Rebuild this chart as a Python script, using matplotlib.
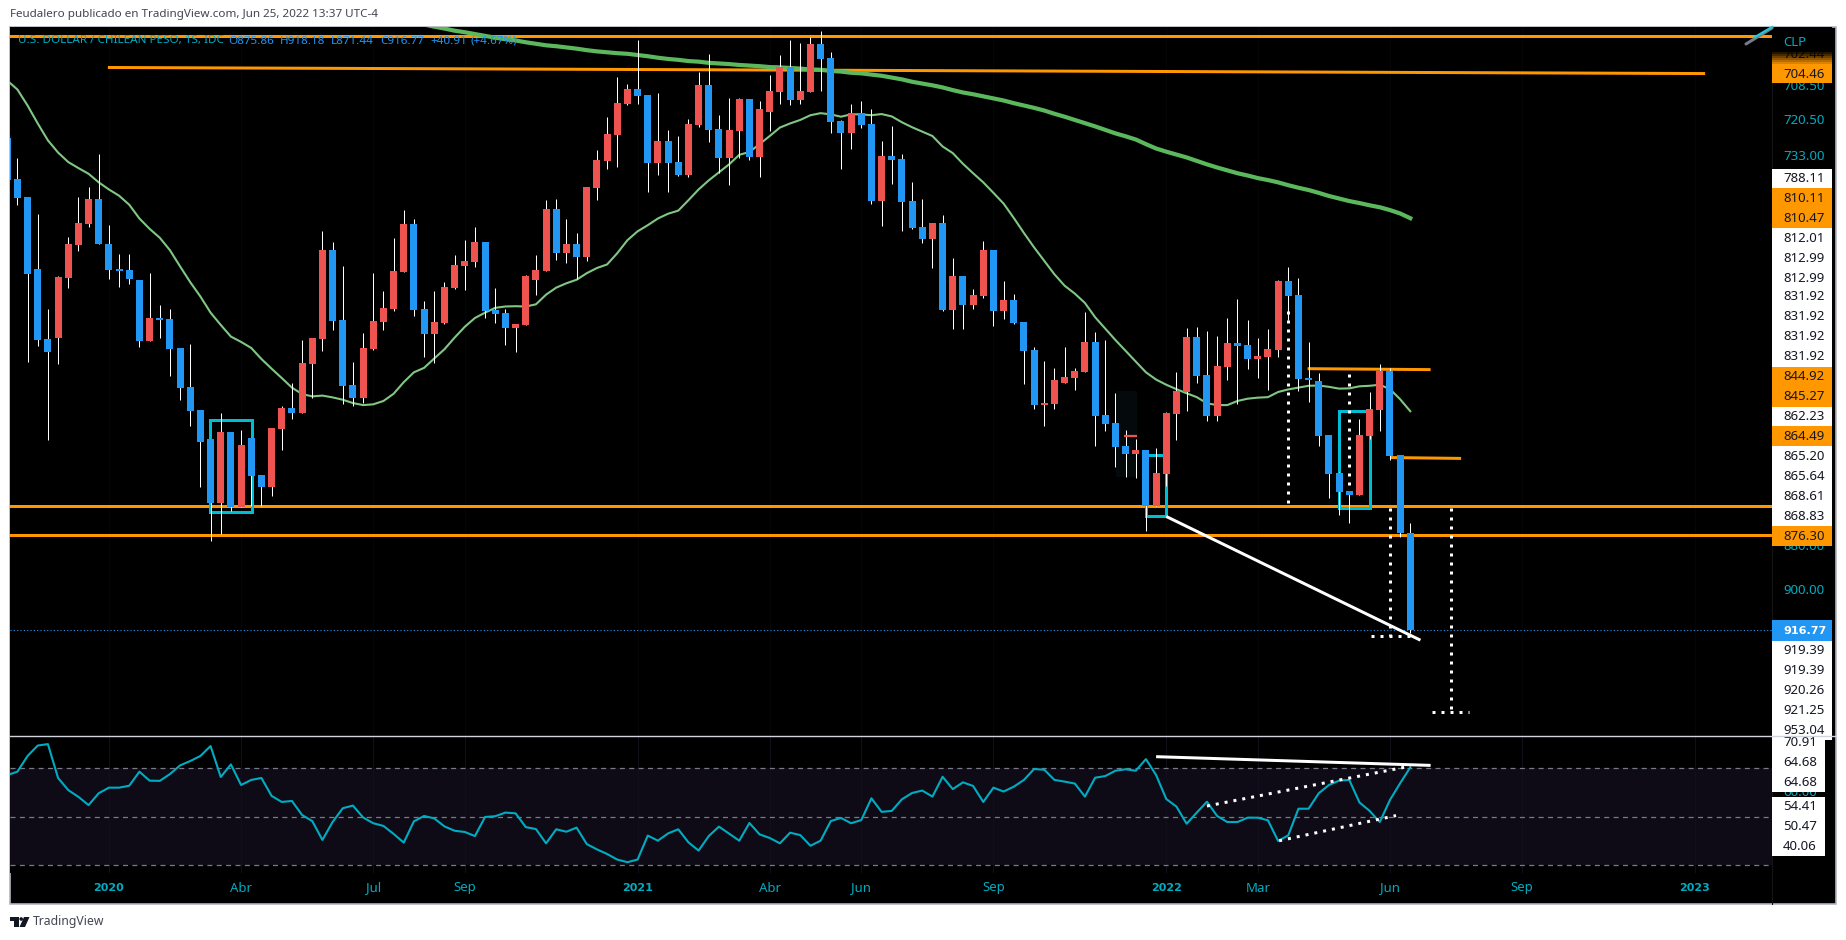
#!/usr/bin/env python
import numpy as np
import matplotlib
matplotlib.use("Agg")
from matplotlib import pyplot as plt
from matplotlib.patches import Rectangle, Polygon, Circle

plt.rcParams["font.family"] = ["Noto Sans", "DejaVu Sans"]

# weekly USD/CLP candles, first one is cut by the left edge
opens = [726.2, 740.5, 747.0, 772.8, 798.8, 798.3, 775.9, 764.0, 756.5, 747.6, 763.7, 772.8, 773.2, 776.8, 799.5, 790.9, 791.3, 802.2, 817.3, 826.2,
         837.5, 863.3, 834.8, 864.9, 837.1, 851.9, 856.9, 833.5, 825.3, 827.3, 808.3, 798.8, 765.9, 791.7, 816.5, 821.4, 802.6, 792.5, 787.5, 774.0,
         756.5, 787.5, 796.9, 792.7, 779.7, 771.8, 770.3, 763.1, 787.9, 789.0, 794.6, 793.5, 776.8, 773.6, 751.1, 766.9, 763.7, 768.5, 743.6, 734.3,
         725.3, 714.7, 709.7, 711.7, 734.9, 727.4, 734.7, 739.2, 721.9, 708.4, 723.2, 733.2, 724.0, 713.0, 732.9, 717.5, 710.8, 702.4, 713.4, 710.8,
         694.7, 699.3, 720.6, 724.4, 717.8, 721.5, 748.4, 732.6, 733.6, 748.4, 757.6, 761.9, 756.1, 787.9, 775.4, 786.1, 782.8, 765.9, 788.3, 784.2,
         792.5, 803.0, 824.2, 823.8, 815.6, 813.7, 811.5, 800.0, 828.1, 831.2, 840.4, 843.5, 841.9, 864.6, 851.5, 827.7, 819.2, 798.1, 812.6, 828.5,
         809.6, 800.3, 801.1, 806.4, 805.7, 803.0, 777.2, 782.4, 813.7, 814.9, 836.0, 851.1, 858.5, 860.1, 836.4, 826.2, 811.1, 843.9, 875.86]
highs = [740.8, 749.6, 807.5, 801.4, 837.8, 808.2, 779.6, 766.2, 757.5, 763.7, 776.3, 779.3, 778.2, 801.8, 799.5, 798.3, 812.9, 822.1, 832.3, 856.7,
         878.9, 875.9, 866.5, 864.9, 864.7, 864.7, 860.5, 841.8, 829.5, 827.3, 821.6, 803.4, 795.3, 823.7, 824.4, 823.4, 802.9, 795.3, 788.3, 774.0,
         790.2, 805.6, 807.9, 793.3, 780.0, 780.4, 772.1, 790.9, 792.7, 801.0, 803.6, 793.5, 782.4, 773.6, 769.5, 770.6, 776.4, 769.9, 748.0, 737.0,
         736.4, 715.0, 714.7, 745.1, 739.2, 745.1, 739.5, 739.9, 722.6, 727.8, 738.4, 742.7, 733.2, 734.0, 739.9, 724.0, 714.7, 715.1, 714.7, 710.8,
         710.4, 724.6, 737.0, 730.1, 722.9, 749.3, 757.2, 742.3, 759.1, 758.4, 763.3, 772.4, 788.3, 795.0, 795.0, 787.5, 783.6, 793.9, 791.3, 793.1,
         816.0, 825.8, 832.4, 825.8, 815.6, 818.4, 811.5, 840.4, 834.4, 848.8, 852.8, 853.1, 874.9, 864.6, 856.4, 837.9, 826.6, 815.6, 830.5, 830.5,
         814.5, 823.8, 810.2, 813.7, 818.4, 805.7, 791.7, 818.8, 823.1, 840.4, 861.2, 868.3, 871.5, 860.1, 837.5, 834.4, 845.9, 877.4, 918.18]
lows = [726.2, 733.2, 747.0, 752.9, 787.5, 775.4, 761.3, 747.0, 743.4, 731.8, 756.9, 767.3, 767.3, 776.8, 774.2, 786.1, 787.5, 802.2, 800.7, 826.2,
        837.5, 827.3, 834.8, 834.0, 837.1, 851.9, 833.1, 824.4, 815.6, 799.1, 798.4, 759.1, 763.1, 771.8, 807.6, 796.5, 774.2, 780.9, 761.6, 751.5,
        754.7, 784.6, 780.9, 777.6, 767.7, 762.3, 757.6, 763.1, 779.7, 787.5, 793.1, 775.0, 767.7, 748.0, 747.6, 754.7, 759.7, 743.4, 730.5, 719.2,
        705.7, 708.0, 693.4, 711.7, 711.0, 723.6, 725.7, 719.8, 704.0, 698.0, 718.5, 712.7, 712.7, 713.0, 713.8, 705.0, 698.4, 693.4, 694.4, 692.5,
        690.5, 697.4, 720.2, 714.7, 713.8, 716.4, 727.4, 722.2, 731.8, 741.7, 747.6, 756.1, 753.3, 768.8, 775.4, 780.1, 762.7, 765.9, 777.2, 782.0,
        792.5, 801.9, 807.2, 809.8, 801.9, 809.8, 788.7, 796.2, 799.2, 819.5, 834.0, 837.5, 841.9, 841.1, 826.9, 811.5, 794.6, 794.3, 795.8, 797.7,
        790.9, 783.9, 791.7, 798.4, 795.0, 776.8, 772.1, 776.0, 800.0, 811.8, 836.0, 850.8, 858.5, 829.6, 819.2, 808.3, 809.8, 843.9, 871.44]
closes = [740.8, 747.1, 774.5, 799.1, 803.9, 775.8, 763.7, 756.1, 747.6, 763.7, 773.1, 773.6, 776.4, 799.5, 790.9, 791.5, 802.6, 817.4, 826.5, 838.7,
          863.3, 834.8, 864.9, 840.0, 852.4, 856.9, 833.1, 825.3, 827.3, 807.9, 798.4, 765.9, 792.1, 816.9, 821.4, 802.2, 792.1, 787.1, 773.6, 756.5,
          787.8, 796.9, 792.5, 779.4, 771.4, 769.9, 763.1, 788.3, 789.4, 794.6, 793.1, 775.4, 773.2, 751.1, 766.9, 763.7, 768.5, 743.4, 734.0, 725.0,
          714.4, 709.7, 712.1, 734.9, 727.4, 734.9, 739.2, 721.5, 708.4, 723.6, 733.2, 723.6, 713.0, 732.9, 716.4, 710.4, 702.4, 713.4, 710.4, 694.7,
          699.7, 720.9, 724.4, 717.8, 721.9, 748.4, 732.6, 734.0, 748.8, 758.0, 761.9, 756.1, 787.9, 775.4, 786.1, 782.4, 765.9, 788.3, 784.2, 792.7,
          803.4, 824.2, 823.4, 814.5, 813.4, 811.1, 800.0, 828.5, 831.6, 840.8, 843.5, 841.9, 864.6, 851.1, 827.3, 818.8, 798.1, 813.0, 828.5, 809.2,
          800.3, 801.5, 806.4, 805.3, 802.6, 777.2, 782.8, 814.1, 814.5, 836.4, 851.5, 858.9, 860.1, 836.0, 825.8, 811.1, 844.3, 875.86, 916.77]

# thin moving average, one value per candle
ma_fast = [706.8, 709.8, 715.2, 721.3, 727.1, 731.3, 734.6, 736.7, 738.7, 741.7, 744.2, 746.4, 749.6, 754.5, 758.2, 761.4, 765.9, 771.8, 777.6, 782.9,
           788.9, 793.5, 797.9, 799.9, 802.2, 806.4, 810.1, 813.7, 817.4, 819.9, 820.8, 820.5, 821.2, 822.1, 823.4, 824.2, 823.9, 822.6, 819.8, 815.3,
           811.5, 809.8, 806.2, 802.7, 798.3, 794.2, 790.9, 788.9, 787.1, 786.6, 786.5, 786.6, 785.8, 782.2, 779.6, 778.0, 776.7, 774.3, 772.4, 771.1,
           767.0, 762.3, 759.1, 756.9, 754.5, 752.8, 751.7, 748.0, 744.2, 741.0, 738.2, 735.4, 732.1, 731.1, 728.4, 725.6, 722.7, 721.3, 720.1, 718.5,
           717.8, 718.2, 719.0, 718.2, 718.2, 718.5, 718.1, 718.9, 720.9, 722.6, 724.1, 725.6, 729.2, 731.5, 735.2, 738.5, 741.7, 745.4, 749.2, 754.3,
           759.7, 764.9, 769.8, 774.7, 778.9, 781.8, 785.3, 790.6, 794.9, 799.2, 803.3, 807.4, 811.5, 814.3, 816.3, 818.0, 819.6, 821.1, 823.5, 824.2,
           824.2, 822.6, 821.7, 821.3, 821.1, 819.1, 818.1, 817.4, 816.7, 816.6, 817.1, 817.8, 817.7, 816.9, 816.7, 816.3, 818.0, 821.9, 826.6]

# thick moving average, comes into the pane around candle 41
ma_slow_start = 40
ma_slow = [688.3, 689.0, 689.6, 690.3, 690.8, 691.4, 692.0, 692.6, 693.1, 693.5, 694.1, 694.6, 695.1, 695.4, 695.8, 696.2, 696.7, 697.1, 697.4, 697.7,
           697.9, 698.3, 698.7, 699.2, 699.6, 699.9, 700.3, 700.5, 700.9, 701.1, 701.3, 701.6, 701.8, 702.0, 702.3, 702.4, 702.6, 702.8, 703.1, 703.2,
           703.6, 703.8, 704.2, 704.4, 704.8, 705.2, 705.8, 706.4, 707.2, 707.8, 708.4, 709.1, 710.0, 710.8, 711.4, 712.1, 712.8, 713.5, 714.4, 715.2,
           716.0, 716.9, 718.0, 719.0, 720.1, 721.2, 722.3, 723.5, 724.7, 725.7, 726.8, 728.4, 729.9, 731.0, 732.0, 733.0, 734.2, 735.4, 736.5, 737.5,
           738.5, 739.3, 740.2, 740.9, 741.7, 742.7, 743.6, 744.4, 745.4, 746.5, 747.4, 748.3, 749.0, 749.8, 750.5, 751.5, 752.7, 754.4]

rsi = [67.2, 68.6, 75.1, 79.4, 80.0, 66.0, 61.0, 58.2, 54.8, 59.7, 62.0, 62.0, 62.8, 68.6, 64.9, 64.8, 67.6, 71.2, 73.0, 75.1,
       79.2, 66.4, 71.6, 63.1, 65.2, 66.0, 58.6, 56.1, 56.5, 50.7, 48.2, 40.4, 47.8, 53.5, 54.6, 49.7, 47.3, 46.2, 42.9, 39.3,
       48.1, 50.3, 49.3, 46.0, 44.2, 43.7, 42.0, 49.9, 50.2, 51.7, 51.4, 45.7, 44.9, 39.0, 44.8, 43.8, 45.5, 38.7, 36.5, 34.6,
       32.3, 31.2, 32.3, 42.2, 40.1, 43.1, 44.8, 39.4, 36.0, 42.0, 45.9, 43.0, 40.1, 47.4, 42.7, 41.2, 39.0, 43.4, 42.4, 38.0,
       40.1, 48.2, 49.5, 47.3, 48.6, 57.6, 52.0, 52.4, 57.2, 59.8, 60.8, 58.3, 66.5, 61.4, 64.2, 62.7, 56.1, 62.0, 60.4, 62.4,
       65.2, 69.7, 69.4, 65.2, 64.5, 63.7, 58.3, 66.1, 66.8, 69.0, 69.6, 69.0, 73.8, 67.2, 57.3, 54.2, 47.1, 51.7, 56.2, 50.3,
       47.8, 47.8, 49.6, 49.6, 48.5, 40.0, 42.3, 53.3, 53.3, 59.7, 63.1, 64.9, 65.2, 55.9, 52.4, 47.8, 56.9, 63.8, 70.4]

date_labels = ["2020", "Abr", "Jul", "Sep", "2021", "Abr", "Jun", "Sep", "2022", "Mar", "Jun", "Sep", "2023"]
date_pos = [9, 22, 35, 44, 61, 74, 83, 96, 113, 122, 135, 148, 165]

# price tags of the right scale: cyan = plain scale value, white = drawing, orange = level
tag_labels = ["708.50", "720.50", "733.00", "880.00", "900.00", "60.00",
              "788.11", "810.11", "810.47", "812.01", "812.99", "812.99", "831.92", "831.92", "831.92", "831.92",
              "844.92", "845.27", "862.23", "864.49", "865.20", "865.64", "868.61", "868.83", "876.30",
              "919.39", "919.39", "920.26", "921.25", "953.04", "70.91", "64.68", "64.68", "54.41", "50.47", "40.06"]
tag_y = [86, 121, 157, 546, 591, 793,
         179, 198, 218, 238, 258, 278, 297, 317, 337, 357,
         377, 397, 417, 436, 456, 476, 496, 516, 536,
         651, 671, 690, 710, 730, 742, 762, 782, 807, 827, 846]
tag_kind = ["s", "s", "s", "s", "s", "s",
            "w", "o", "o", "w", "w", "w", "w", "w", "w", "w",
            "o", "o", "w", "o", "w", "w", "w", "w", "o",
            "w", "w", "w", "w", "w", "r", "r", "r", "r", "r", "r"]

W, H = 1846, 940
L, R = 10, 1772
X0, STEP = 17.4, 10.167
ORANGE = "#ff9800"
CYAN = "#00bcd4"
TEXT_CYAN = "#00acc1"
BLUE = "#2196f3"
RED = "#ef5350"

fig = plt.figure(figsize=(W / 100, H / 100), dpi=100, facecolor="white")


def pane(top, bottom):
    ax = fig.add_axes([L / W, 1 - bottom / H, (R - L) / W, (bottom - top) / H], facecolor="black")
    ax.set_xlim((L - X0) / STEP, (R - X0) / STEP)
    ax.set_xticks([])
    ax.set_yticks([])
    for s in ax.spines.values():
        s.set_visible(False)
    return ax


# full figure pixel axes, drawn first so the frame sits behind the panes
bg = fig.add_axes([0, 0, 1, 1], zorder=0)
bg.set_xlim(0, W)
bg.set_ylim(H, 0)
bg.axis("off")
bg.add_patch(Rectangle((10, 27), 1826, 877, fc="black", ec="#b2b5be", lw=1.2))

ax = pane(27, 736)
ax.set_zorder(1)
ax.set_yscale("log")
ax.set_ylim(964.0, 689.1)
ax.minorticks_off()
ax.set_yticks([])
ax.tick_params(which="both", left=False, labelleft=False)

lw3 = 2.16
for d in date_pos:
    ax.axvline(d, color="#070707", lw=0.7, zorder=1)

x = np.arange(len(opens)) - 1

# hidden leftover drawing near the end of 2021
ax.add_patch(Rectangle((108.05, 818.8), 2.05, 33.8, fc="#04090c", ec="none", zorder=1.5))

ax.axhline(916.77, color=BLUE, lw=0.8, ls=(0, (1, 2)), zorder=2)

# orange levels
for lvl in [692.1, 864.49, 876.30]:
    ax.axhline(lvl, color=ORANGE, lw=lw3, zorder=3)
ax.plot([8.9, 166.0], [702.44, 704.46], color=ORANGE, lw=lw3, zorder=3, solid_capstyle="butt")
ax.plot([126.9, 139.0], [810.11, 810.47], color=ORANGE, lw=lw3, zorder=3, solid_capstyle="butt")
ax.plot([135.0, 142.0], [844.92, 845.27], color=ORANGE, lw=lw3, zorder=3, solid_capstyle="butt")

# teal boxes
for x1, x2, p1, p2 in [(18.95, 23.1, 830.1, 866.9), (111.0, 113.0, 843.8, 868.6), (130.0, 133.05, 826.7, 865.5)]:
    ax.plot([x1, x2, x2, x1, x1], [p1, p1, p2, p2, p1], color=CYAN, lw=lw3, zorder=3, solid_joinstyle="miter")

# white trend line and dotted measures
ax.plot([113.0, 138.0], [868.83, 921.25], color="white", lw=lw3, zorder=3, solid_capstyle="butt")
dots = dict(color="white", lw=lw3, ls=(0, (1, 2)), zorder=3, dash_capstyle="butt")
ax.plot([125, 125], [788.11, 865.64], **dots)
ax.plot([131, 131], [812.01, 862.23], **dots)
ax.plot([135, 135], [865.20, 919.39], **dots)
ax.plot([133.1, 137.0], [919.39, 919.39], **dots)
ax.plot([141, 141], [865.2, 953.04], **dots)
ax.plot([139.1, 142.8], [953.04, 953.04], **dots)

ax.plot(x, ma_fast, color="#81c784", lw=1.5, zorder=4)
ax.plot(np.arange(len(ma_slow)) + ma_slow_start, ma_slow, color="#5cb85c", lw=3.0, zorder=4)

# candles, axis is inverted so a rising price goes down the screen
colors = [BLUE if c >= o else RED for o, c in zip(opens, closes)]
wicks = ax.vlines(x, lows, highs, color="white", lw=0.72, zorder=5)
wicks.set_snap(True)
bot = [min(o, c) for o, c in zip(opens, closes)]
hgt = [max(abs(c - o), 0.5) for o, c in zip(opens, closes)]
ax.bar(x, hgt, bottom=bot, width=0.69, color=colors, linewidth=0, zorder=6)
ax.plot([108.8, 110.1], [836.4, 836.4], color=RED, lw=1.6, zorder=6, solid_capstyle="butt")

# rsi pane
ax2 = pane(737, 873)
ax2.set_zorder(1)
ax2.set_ylim(26.74, 82.93)
ax2.axhspan(30, 70, color="#0e0b16", lw=0, zorder=1)
for d in date_pos:
    ax2.axvline(d, color="#12101c", lw=0.7, zorder=1)
for lvl in [70, 50, 30]:
    ax2.axhline(lvl, color="#787b86", lw=0.9, ls=(0, (4, 3.5)), zorder=2)
ax2.plot(np.arange(len(rsi)) - 1, rsi, color=TEXT_CYAN, lw=1.5, zorder=4)
ax2.plot([112.0, 139.0], [74.8, 71.2], color="white", lw=lw3, zorder=5, solid_capstyle="butt")
ax2.plot([117.0, 137.0], [54.41, 70.91], **{**dots, "zorder": 5})
ax2.plot([124.1, 135.6], [40.06, 50.47], **{**dots, "zorder": 5})

# overlay for scale tags, header and dates
ov = fig.add_axes([0, 0, 1, 1], zorder=3)
ov.set_xlim(0, W)
ov.set_ylim(H, 0)
ov.axis("off")
ov.patch.set_alpha(0)

fs = 9.5
ov.plot([R, R], [27, 904], color="#141414", lw=0.8)

kinds = {"w": ("white", "#131722", 1832), "o": (ORANGE, "#131722", 1832), "r": ("white", "#131722", 1825)}
for label, yy, kind in zip(tag_labels, tag_y, tag_kind):
    if kind == "s":
        ov.text(1783, yy, label, color=TEXT_CYAN, fontsize=fs, va="center", ha="left", zorder=2)
for label, yy, kind in zip(tag_labels, tag_y, tag_kind):
    if kind != "s":
        fc, tc, xr = kinds[kind]
        ov.add_patch(Rectangle((R, yy - 10), xr - R, 20, fc=fc, ec="none", zorder=3))
        ov.text(1783, yy, label, color=tc, fontsize=fs, va="center", ha="left", zorder=4)
ov.plot([10, 1836], [736, 736], color="#d1d4dc", lw=1.0, zorder=5)

# current price tag
ov.add_patch(Rectangle((R, 620), 60, 21, fc=BLUE, ec="none", zorder=3))
ov.text(1783, 631, "916.77", color="white", fontsize=8.0, fontweight="bold", family="DejaVu Sans",
        va="center", ha="left", zorder=4)

# top of the scale, 702.44 tag fading out under the CLP corner
ov.add_patch(Rectangle((R, 63), 60, 20, fc=ORANGE, ec="none", zorder=3))
ov.text(1783, 74, "704.46", color="#131722", fontsize=fs, va="center", zorder=4)
ov.add_patch(Rectangle((R, 48), 60, 15, fc=ORANGE, ec="none", zorder=3))
ov.text(1783, 55, "702.44", color="#131722", fontsize=fs, va="center", zorder=4)
ov.add_patch(Rectangle((R, 27), 60, 23, fc="black", ec="none", zorder=5))
for k in range(7):
    ov.add_patch(Rectangle((R, 50 + k * 2), 60, 2, fc="black", alpha=1 - k / 7, ec="none", zorder=5))
ov.text(1783, 42, "CLP", color=TEXT_CYAN, fontsize=fs, va="center", zorder=6)

# trend line running out of the chart, top right
ov.plot([1746, 1772], [44, 28], color="#787b86", lw=2.2, zorder=6, solid_capstyle="round")
ov.plot([1755, 1772], [37, 27], color="#26c6da", lw=1.6, zorder=6)

for label, d in zip(date_labels, date_pos):
    if label.isdigit():
        ov.text(X0 + d * STEP, 888, label, color=TEXT_CYAN, fontsize=8.0, fontweight="bold",
                family="DejaVu Sans", ha="center", va="center")
    else:
        ov.text(X0 + d * STEP, 888, label, color=TEXT_CYAN, fontsize=fs, ha="center", va="center")

ov.text(10, 14, "Feudalero publicado en TradingView.com, Jun 25, 2022 13:37 UTC-4", color="#434651",
        fontsize=8.4, va="center", ha="left")

ov.text(18, 41, "U.S. DOLLAR / CHILEAN PESO, 1S, IDC", color=TEXT_CYAN, fontsize=8.4, va="center", zorder=7)
for xx, s in [(228.5, "O875.86"), (279.6, "H918.18"), (330.6, "L871.44"), (380, "C916.77"), (430, "+40.91"), (470.5, "(+4.67%)")]:
    ov.text(xx, 41, s, color=BLUE, fontsize=8.4, va="center", zorder=7)

# logo
ov.add_patch(Polygon([(10, 917), (18.5, 917), (18.5, 927), (14, 927), (14, 920.5), (10, 920.5)], fc="#131722", ec="none"))
ov.add_patch(Circle((21.2, 919), 1.8, fc="#131722", ec="none"))
ov.add_patch(Polygon([(24, 917), (29.5, 917), (25, 927), (19.5, 927)], fc="#131722", ec="none"))
ov.text(33, 922, "TradingView", color="#434651", fontsize=8.8, va="center", ha="left")

fig.savefig("out.png", dpi=100, facecolor="white")
